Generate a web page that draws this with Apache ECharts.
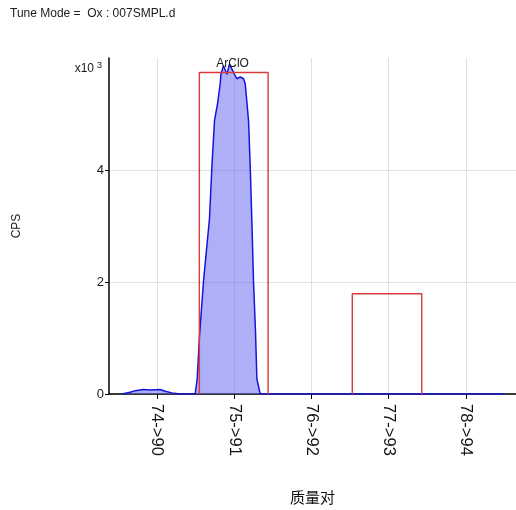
<!DOCTYPE html>
<html><head><meta charset="utf-8">
<script src="https://cdn.jsdelivr.net/npm/echarts@6/dist/echarts.min.js"></script>
<style>html,body{margin:0;padding:0;background:#fff}#c{width:516px;height:510px}</style>
</head><body><div id="c"></div>
<script>
// --- data ---
const tickMasses = [74, 75, 76, 77, 78];
const tickLabels = ['74->90', '75->91', '76->92', '77->93', '78->94'];
const yTicks = [0, 2, 4];
const specMass = [73.547, 73.654, 73.719, 73.826, 73.913, 74.043, 74.108, 74.194, 74.302,
  74.496, 74.522, 74.552, 74.604, 74.681, 74.712, 74.746, 74.785, 74.820, 74.829, 74.863,
  74.907, 74.940, 74.972, 75.005, 75.036, 75.079, 75.122, 75.144, 75.187, 75.209, 75.231,
  75.251, 75.277, 75.295, 75.338, 78.49];
const specCps = [0, 0.03, 0.06, 0.08, 0.07, 0.08, 0.05, 0.02, 0,
  0, 0.27, 1.04, 2.02, 3.13, 4.05, 4.88, 5.18, 5.54, 5.71, 5.86,
  5.71, 5.89, 5.80, 5.71, 5.63, 5.66, 5.63, 5.54, 4.88, 4.05, 3.04,
  2.02, 1.11, 0.27, 0, 0];
const boxLeft = [74.55, 76.53];
const boxRight = [75.44, 77.43];
const boxTop = [5.74, 1.79];
const peakName = 'ArClO';
const peakMass = 74.98;
const peakCps = 5.89;

const specData = specMass.map((m, i) => [m, specCps[i]]);
const boxData = [];
boxLeft.forEach((l, i) => {
  if (i > 0) boxData.push([null, null]);
  boxData.push([l, 0], [l, boxTop[i]], [boxRight[i], boxTop[i]], [boxRight[i], 0]);
});

const font = 'Liberation Sans, Arial, sans-serif';
const chart = echarts.init(document.getElementById('c'));
chart.setOption({
  animation: false,
  textStyle: { fontFamily: font },
  grid: { left: 109, right: 0, top: 58, bottom: 115, containLabel: false },
  graphic: [
    { type: 'text', left: 10, top: 8, style: { text: 'Tune Mode =  Ox : 007SMPL.d', font: '12px ' + font, fill: '#1a1a1a' } },
    { type: 'text', right: 414, top: 61, style: { text: 'x10{s|3}', font: '12px ' + font, fill: '#1a1a1a',
        rich: { s: { fontSize: 9, verticalAlign: 'top', padding: [0, 0, 6, 3], fill: '#1a1a1a' } } } },
    { type: 'text', rotation: Math.PI / 2, x: 17, y: 226, style: { text: 'CPS', font: '12px ' + font, fill: '#1a1a1a', align: 'center', verticalAlign: 'middle' } }
  ],
  xAxis: {
    type: 'value', min: 73.38, max: 78.65,
    name: '质量对', nameLocation: 'middle', nameGap: 96,
    nameTextStyle: { fontFamily: 'Noto Sans CJK SC', fontSize: 15, color: '#111' },
    axisLine: { show: true, lineStyle: { color: '#000', width: 1.5 } },
    axisTick: { show: true, customValues: tickMasses, length: 5, lineStyle: { color: '#000' } },
    axisLabel: { customValues: tickMasses, rotate: -90, margin: 10, fontSize: 16.5, color: '#111',
      formatter: v => tickLabels[tickMasses.indexOf(Math.round(v))] || '' },
    splitLine: { show: true, lineStyle: { color: '#e0e0e0', width: 1 } }
  },
  yAxis: {
    type: 'value', min: 0, max: 6,
    axisLine: { show: true, lineStyle: { color: '#000', width: 1.5 } },
    axisTick: { show: true, customValues: yTicks, length: 4, lineStyle: { color: '#000' } },
    axisLabel: { customValues: yTicks, fontSize: 13, color: '#1a1a1a', margin: 5 },
    splitLine: { show: true, lineStyle: { color: '#e0e0e0', width: 1 } }
  },
  series: [
    {
      type: 'line', data: specData, symbol: 'none', z: 2,
      lineStyle: { color: '#1414dc', width: 1.5 },
      areaStyle: { color: 'rgba(95,95,240,0.5)', opacity: 1 },
      markPoint: {
        symbol: 'circle', symbolSize: 0,
        data: [{ coord: [peakMass, peakCps], name: peakName }],
        label: { show: true, position: 'inside', formatter: '{b}', color: '#1a1a1a', fontSize: 12, fontFamily: font }
      }
    },
    {
      type: 'line', data: boxData, symbol: 'none', connectNulls: false, z: 3,
      lineStyle: { color: '#d93a3a', width: 1.4 }
    }
  ]
});
</script></body></html>
